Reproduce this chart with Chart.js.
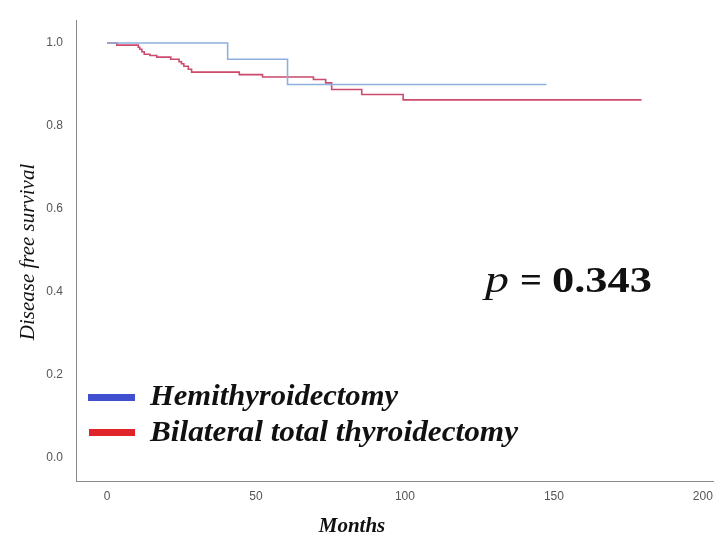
<!DOCTYPE html>
<html>
<head>
<meta charset="utf-8">
<script src="https://cdn.jsdelivr.net/npm/chart.js@4/dist/chart.umd.min.js"></script>
<style>
    html, body { margin: 0; padding: 0; background: #fff; }
    #wrap { width: 724px; height: 541px; }
</style>
</head>
<body>
<div id="wrap"><canvas id="kmChart" width="724" height="541"></canvas></div>
<script>
// Kaplan-Meier data (months, survival)
const hemiMonths = [0, 40.5, 60.6, 147.5];
const hemiSurv = [1.0, 0.961, 0.90, 0.90];

const btMonths = [0, 3.3, 10.5, 11, 11.7, 12.5, 14.4, 16.7, 21.4, 24.2, 25, 25.8, 27.3, 28.4, 44.4, 52.2, 69.3, 73.4, 75.4, 85.5, 99.4, 179.4];
const btSurv = [1.0, 0.995, 0.99, 0.985, 0.979, 0.973, 0.97, 0.966, 0.961, 0.955, 0.95, 0.944, 0.937, 0.93, 0.924, 0.918, 0.912, 0.904, 0.888, 0.876, 0.863, 0.863];

const xTicks = [0, 50, 100, 150, 200];
const yTicks = [0, 0.2, 0.4, 0.6, 0.8, 1.0];

const seriesNames = ['Hemithyroidectomy', 'Bilateral total thyroidectomy'];
const pText = '0.343';

const toPoints = (xs, ys) => xs.map((x, i) => ({ x: x, y: ys[i] }));

// Draw text squeezed/stretched horizontally to a given width
const drawFitted = (ctx, text, font, x, y, width) => {
    ctx.font = font;
    const w = ctx.measureText(text).width;
    ctx.save();
    ctx.translate(x, y);
    ctx.scale(width / w, 1);
    ctx.fillText(text, 0, 0);
    ctx.restore();
};

// Axis titles, legend and p value
const annotations = {
    id: 'annotations',
    afterDraw(chart) {
        const ctx = chart.ctx;
        ctx.save();
        ctx.fillStyle = '#111';

        // y title
        ctx.save();
        ctx.translate(28, 252);
        ctx.rotate(-Math.PI / 2);
        ctx.font = 'italic 21px "Liberation Serif"';
        ctx.textAlign = 'center';
        ctx.textBaseline = 'middle';
        ctx.fillText('Disease free survival', 0, 0);
        ctx.restore();

        // x title
        ctx.font = 'italic bold 21px "Liberation Serif"';
        ctx.textAlign = 'center';
        ctx.textBaseline = 'middle';
        ctx.fillText('Months', 352, 527);

        // legend
        ctx.fillStyle = '#3f4fd0';
        ctx.fillRect(88, 394, 47, 7);
        ctx.fillStyle = '#e0252a';
        ctx.fillRect(89, 429, 46, 7);

        ctx.fillStyle = '#111';
        ctx.textAlign = 'left';
        ctx.textBaseline = 'alphabetic';
        drawFitted(ctx, seriesNames[0], 'italic bold 29px "Liberation Serif"', 150, 405, 248);
        drawFitted(ctx, seriesNames[1], 'italic bold 29px "Liberation Serif"', 150, 441, 368);

        // p value
        drawFitted(ctx, 'p', 'italic 38px "Liberation Serif"', 485, 292, 24);
        drawFitted(ctx, '=', 'bold 36px "Liberation Serif"', 520, 292, 22);
        drawFitted(ctx, pText, 'bold 36px "Liberation Serif"', 552, 292, 100);
        ctx.restore();
    }
};

const ctx = document.getElementById('kmChart').getContext('2d');
new Chart(ctx, {
    type: 'line',
    data: {
        datasets: [
            {
                label: seriesNames[0],
                data: toPoints(hemiMonths, hemiSurv),
                borderColor: '#8db0dc',
                borderWidth: 1.6,
                stepped: true,
                pointRadius: 0,
                fill: false
            },
            {
                label: seriesNames[1],
                data: toPoints(btMonths, btSurv),
                borderColor: '#cc4a6c',
                borderWidth: 1.6,
                stepped: true,
                pointRadius: 0,
                fill: false
            }
        ]
    },
    options: {
        responsive: false,
        animation: false,
        events: [],
        layout: {
            padding: { left: 40, top: 15, right: 11, bottom: 0 }
        },
        plugins: {
            legend: { display: false },
            tooltip: { enabled: false }
        },
        scales: {
            x: {
                type: 'linear',
                min: -10.4,
                max: 203.4,
                afterBuildTicks: s => { s.ticks = xTicks.map(v => ({ value: v })); },
                afterFit: s => { s.height = 60; },
                grid: { display: false, drawTicks: false },
                border: { display: true, color: '#8a8a8a', width: 1 },
                ticks: {
                    padding: 8,
                    color: '#555',
                    font: { family: '"Liberation Sans"', size: 12 },
                    maxRotation: 0
                }
            },
            y: {
                min: -0.055,
                max: 1.055,
                afterBuildTicks: s => { s.ticks = yTicks.map(v => ({ value: v })); },
                afterFit: s => { s.width = 36; },
                grid: { display: false, drawTicks: false },
                border: { display: true, color: '#8a8a8a', width: 1 },
                ticks: {
                    padding: 13,
                    color: '#555',
                    font: { family: '"Liberation Sans"', size: 12 },
                    callback: v => v.toFixed(1)
                }
            }
        }
    },
    plugins: [annotations]
});
</script>
</body>
</html>
